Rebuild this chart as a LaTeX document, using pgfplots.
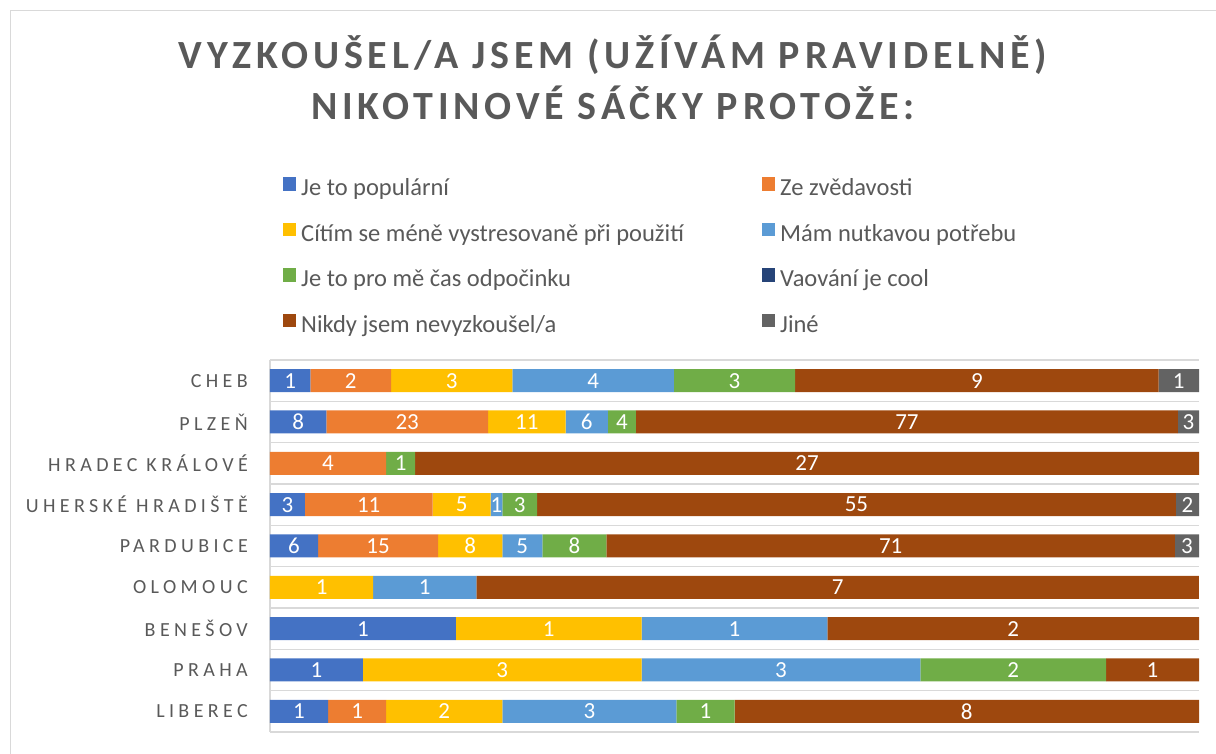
\documentclass[border=0pt]{standalone}
\usepackage{fontspec}
\setmainfont{Carlito}
\newfontfamily\titlefont[LetterSpace=12]{Carlito}
\newfontfamily\catfont[LetterSpace=22]{Carlito}
\usepackage{pgfplots}
\usepackage{pgfplotstable}
\pgfplotsset{compat=1.18}
\definecolor{cpop}{HTML}{4472C4}
\definecolor{czve}{HTML}{ED7D31}
\definecolor{ccit}{HTML}{FFC000}
\definecolor{cmam}{HTML}{5B9BD5}
\definecolor{codp}{HTML}{70AD47}
\definecolor{cvap}{HTML}{264478}
\definecolor{cnik}{HTML}{9E480E}
\definecolor{cjin}{HTML}{636363}
\definecolor{ctext}{HTML}{595959}
\definecolor{cgrid}{HTML}{D9D9D9}
\pgfplotstableread{
idx pop zve cit mam odp vap nik jin tot
0 1 2 3 4 3 0 9 1 23
1 8 23 11 6 4 0 77 3 132
2 0 4 0 0 1 0 27 0 32
3 3 11 5 1 3 0 55 2 80
4 6 15 8 5 8 0 71 3 116
5 0 0 1 1 0 0 7 0 9
6 1 0 1 1 0 0 2 0 5
7 1 0 3 3 2 0 1 0 10
8 1 1 2 3 1 0 8 0 16
}\data
\newcommand\plotser[3]{%
  \addplot[fill=#2, draw=none]
    table[y=idx, x expr=\thisrow{#1}/\thisrow{tot}*100, meta=#1] {\data};
  \addlegendentry{#3}}
\begin{document}
\begin{tikzpicture}[x=1pt,y=1pt]
\path[use as bounding box] (0,0) rectangle (1216,754);
\draw[cgrid, line width=1pt] (10,0) -- (10,743) -- (1216,743);
\node[anchor=base, text=ctext, inner sep=0pt, font={\titlefont\bfseries\fontsize{40}{48}\selectfont}] at (613,685) {VYZKOUŠEL/A JSEM (UŽÍVÁM PRAVIDELNĚ)};
\node[anchor=base, text=ctext, inner sep=0pt, font={\titlefont\bfseries\fontsize{40}{48}\selectfont}] at (613,634) {NIKOTINOVÉ SÁČKY PROTOŽE:};
\begin{axis}[
  at={(270pt,22pt)}, anchor=south west,
  scale only axis, width=929pt, height=372pt,
  xbar stacked, bar width=23pt,
  xmin=0, xmax=100, ymin=-0.5, ymax=8.5, y dir=reverse,
  enlarge x limits=false,
  axis line style={draw=none},
  tick style={draw=none},
  xtick={0}, xticklabels={}, xmajorgrids,
  ytick={0,...,8},
  yticklabels={CHEB, PLZEŇ, HRADEC KRÁLOVÉ, UHERSKÉ HRADIŠTĚ, PARDUBICE, OLOMOUC, BENEŠOV, PRAHA, LIBEREC},
  minor ytick={-0.5,0.5,...,8.5}, yminorgrids,
  grid style={color=cgrid, line width=1.5pt},
  minor grid style={color=cgrid, line width=1.5pt},
  yticklabel style={font={\catfont\fontsize{20}{20}\selectfont}, text=ctext, inner sep=0pt, anchor=east, xshift=-22pt},
  point meta=explicit,
  /pgf/number format/assume math mode=true,
  nodes near coords={\pgfmathfloatifflags{\pgfplotspointmeta}{0}{}{\pgfmathprintnumber{\pgfplotspointmeta}}},
  every node near coord/.append style={font={\fontsize{23}{23}\selectfont}, text=white, anchor=center, inner sep=0pt},
  legend columns=2,
  legend cell align=left,
  legend image code/.code={\fill[#1] (0pt,0pt) rectangle (13pt,13.5pt);},
  legend style={draw=none, fill=none, at={(axis description cs:0.014,1)}, anchor=north west, yshift=183pt,
    font={\fontsize{24.5}{24.5}\selectfont}, text=ctext, column sep=5pt, row sep=22pt, inner sep=0pt,
    nodes={inner sep=0pt, text height=15pt, text depth=5pt}},
]
\plotser{pop}{cpop}{\makebox[456pt][l]{Je to populární}}
\plotser{zve}{czve}{Ze zvědavosti}
\plotser{cit}{ccit}{\makebox[456pt][l]{Cítím se méně vystresovaně při použití}}
\plotser{mam}{cmam}{Mám nutkavou potřebu}
\plotser{odp}{codp}{\makebox[456pt][l]{Je to pro mě čas odpočinku}}
\plotser{vap}{cvap}{Vaování je cool}
\plotser{nik}{cnik}{\makebox[456pt][l]{Nikdy jsem nevyzkoušel/a}}
\plotser{jin}{cjin}{Jiné}
\end{axis}
\end{tikzpicture}
\end{document}
